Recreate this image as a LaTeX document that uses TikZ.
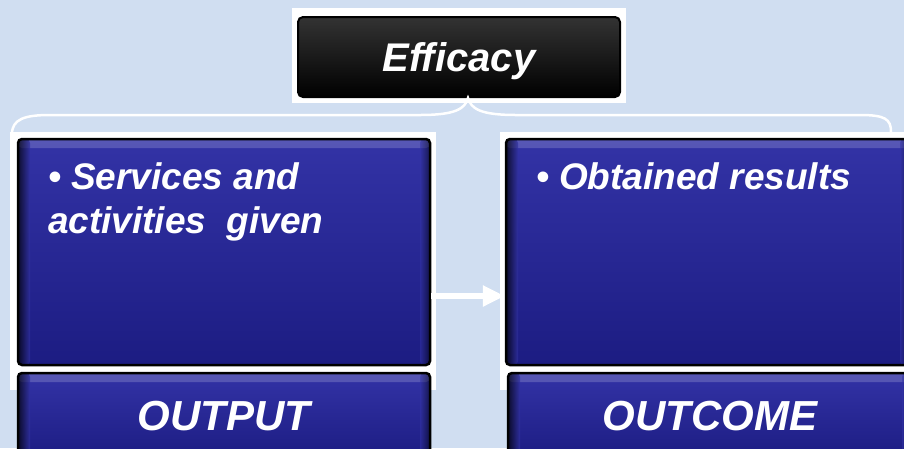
\documentclass[tikz,border=0pt]{standalone}
\usepackage{fontspec}
\setmainfont{Liberation Sans}
\usetikzlibrary{arrows.meta}

\definecolor{slideBg}{HTML}{D0DEF1}
\definecolor{boxTop}{HTML}{3333A6}
\definecolor{boxBot}{HTML}{1C1C82}

\begin{document}
\begin{tikzpicture}[
    x=1pt, y=-1pt,
    frame/.style={%
      fill=white,
      inner sep=0pt,
    },
    bevel/.style={%
      path picture={%
        \fill[white,opacity=0.18] (path picture bounding box.north west)
          rectangle ([yshift=-9pt]path picture bounding box.north east);
        \shade[left color=black,right color=boxTop,opacity=0.7]
          (path picture bounding box.north west)
          rectangle ([xshift=12pt]path picture bounding box.south west);
        \shade[left color=boxTop,right color=black,opacity=0.5]
          ([xshift=-10pt]path picture bounding box.north east)
          rectangle (path picture bounding box.south east);
      },
    },
    panel/.style={%
      draw=black,
      line width=2.5pt,
      rounded corners=4pt,
      top color=boxTop,
      bottom color=boxBot,
      bevel,
      inner sep=0pt,
      text=white,
      font=\bfseries\itshape\fontsize{37}{44}\selectfont,
    },
    bar/.style={%
      panel,
      text depth=0pt,
      minimum height=86pt,
      font=\bfseries\itshape\fontsize{42}{46}\selectfont,
    },
    title/.style={%
      draw=black,
      line width=2pt,
      rounded corners=5pt,
      top color=black!80,
      bottom color=black,
      text=white,
      text depth=0pt,
      minimum width=322pt,
      minimum height=80pt,
      font=\bfseries\itshape\fontsize{40}{44}\selectfont,
    },
    flow/.style={%
      draw=white,
      line width=6pt,
      -{Triangle[length=22pt,width=20pt]},
    },
  ]

    % background
    \fill[slideBg] (0,0) rectangle (904,448);
    \useasboundingbox (0,0) rectangle (904,448);

    % white frames
    \node [frame, minimum width=334pt, minimum height=95pt] (efficacyFrame) at (459,55) {};
    \node [frame, minimum width=426pt, minimum height=258pt] (outputFrame) at (223,261) {};
    \node [frame, minimum width=410pt, minimum height=258pt] (outcomeFrame) at (705,261) {};

    \node [title] (efficacy) at (459,57) {Efficacy};

    % brace under the title
    \coordinate (braceL) at (12,134);
    \coordinate (braceR) at (891,132);
    \coordinate (braceTip) at ([xshift=9pt]efficacy.south);
    \draw [white, line width=2.5pt]
      (braceL) .. controls (12,119) and (25,115) .. (50,115) -- (420,115)
      .. controls (455,115) and (465,109) .. (braceTip)
      .. controls (471,109) and (481,115) .. (516,115) -- (860,115)
      .. controls (885,115) and (891,119) .. (braceR);

    \node [panel] (output) at (224,252)
      {\parbox[c][226pt][t]{412pt}{\raggedright\leftskip=30pt
        \vspace*{24pt}\textbullet\ Services and\\activities~~given}};
    \node [panel] (outcome) at (708,252)
      {\parbox[c][226pt][t]{404pt}{\raggedright\leftskip=30pt
        \vspace*{24pt}\textbullet\ Obtained results}};

    \node [bar, minimum width=412pt] (outputBar) at (224,416) {OUTPUT};
    \node [bar, minimum width=404pt] (outcomeBar) at (710,416) {OUTCOME};

    \draw [flow] ([yshift=-44pt]output.east) -- ([yshift=-44pt]outcome.west);
\end{tikzpicture}
\end{document}
